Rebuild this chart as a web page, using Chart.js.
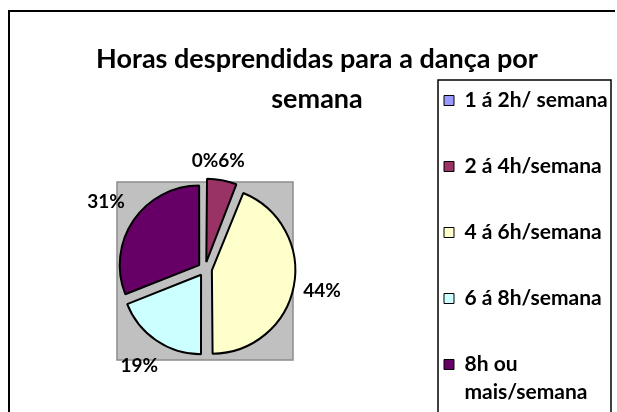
<!DOCTYPE html>
<html>
<head>
<meta charset="utf-8">
<script src="https://cdn.jsdelivr.net/npm/chart.js@4.4.1/dist/chart.umd.min.js"></script>
<style>
  body { margin: 0; background: #fff; overflow: hidden; }
  #wrap { position: relative; width: 617px; height: 412px; overflow: hidden; }
  #wrap canvas { position: absolute; left: 0; top: 0; }
  #title {
    position: absolute; left: 0; top: 38px; width: 634px;
    text-align: center; font: bold 27px Lato, sans-serif; line-height: 40px; color: #000;
  }
</style>
</head>
<body>
<div id="wrap">
  <canvas id="chart1" width="617" height="440"></canvas>
  <div id="title">Horas desprendidas para a dança por<br>semana</div>
</div>
<script>
// horas por semana (% dos inquiridos)
const categories = ['1 á 2h/ semana', '2 á 4h/semana', '4 á 6h/semana', '6 á 8h/semana', ['8h ou', 'mais/semana']]
const percentages = [0, 6, 44, 19, 31]

const FONT = 'Lato, sans-serif'
const LEGEND_LEFT = 399

// moldura, area cinza do grafico e caixa da legenda
const frame = {
  id: 'frame',
  beforeDatasetsDraw(chart) {
    const { ctx, chartArea } = chart
    const cx = (chartArea.left + chartArea.right) / 2
    const cy = (chartArea.top + chartArea.bottom) / 2
    ctx.save()
    ctx.strokeStyle = '#000'
    ctx.lineWidth = 2
    ctx.beginPath()
    ctx.moveTo(9, 440)
    ctx.lineTo(9, 11)
    ctx.lineTo(615, 11)
    ctx.stroke()

    ctx.fillStyle = '#c0c0c0'
    ctx.fillRect(cx - 88, cy - 87, 176, 178)
    ctx.strokeStyle = '#8c8c8c'
    ctx.lineWidth = 1.5
    ctx.strokeRect(cx - 88, cy - 87, 176, 178)

    ctx.strokeStyle = '#000'
    ctx.lineWidth = 1.5
    ctx.strokeRect(438, 80, 173, 400)
    ctx.restore()
  }
}

// rotulos de percentagem fora das fatias
const pctLabels = {
  id: 'pctLabels',
  afterDatasetsDraw(chart) {
    const { ctx } = chart
    const meta = chart.getDatasetMeta(0)
    const values = chart.data.datasets[0].data
    const total = values.reduce((a, b) => a + b, 0)
    ctx.save()
    ctx.font = 'bold 19px ' + FONT
    ctx.fillStyle = '#000'
    ctx.textAlign = 'center'
    ctx.textBaseline = 'middle'
    let prev = null
    meta.data.forEach((arc, i) => {
      const { x, y, startAngle, endAngle, outerRadius } = arc.getProps(['x', 'y', 'startAngle', 'endAngle', 'outerRadius'], true)
      const mid = (startAngle + endAngle) / 2
      const dx = Math.cos(mid)
      const dy = Math.sin(mid)
      const text = Math.round(values[i] / total * 100) + '%'
      const w = ctx.measureText(text).width
      const d = outerRadius + 20 + Math.abs(dx) * w / 2 + Math.abs(dy) * 9
      let lx = x + dx * d
      const ly = y + dy * d
      // nao sobrepor ao rotulo anterior
      if (prev && Math.abs(ly - prev.y) < 18 && lx - w / 2 < prev.right) {
        lx = prev.right + w / 2
      }
      ctx.fillText(text, lx, ly)
      prev = { y: ly, right: lx + w / 2 }
    })
    ctx.restore()
  }
}

const chart = new Chart('chart1', {
  type: 'pie',
  data: {
    labels: categories,
    datasets: [{
      data: percentages,
      backgroundColor: ['#9999ff', '#993366', '#ffffcc', '#ccffff', '#660066'],
      borderColor: '#000',
      borderWidth: 2,
      offset: 28,
      radius: 79
    }]
  },
  options: {
    responsive: false,
    animation: false,
    layout: {
      padding: { left: 11, right: 3, top: 45, bottom: 0 }
    },
    plugins: {
      // espaco vazio por cima da area do grafico (o titulo esta no html)
      title: { display: true, text: '', fullSize: false, padding: 0, font: { size: 12, lineHeight: '53px' } },
      tooltip: { enabled: false },
      legend: {
        position: 'right',
        align: 'start',
        maxWidth: 214,
        labels: {
          color: '#000',
          boxWidth: 10,
          boxHeight: 10,
          padding: 45,
          font: { family: FONT, size: 21, weight: 'bold', lineHeight: 1.333 },
          generateLabels(chart) {
            const items = Chart.overrides.pie.plugins.legend.labels.generateLabels(chart)
            return items.map(item => ({ ...item, lineWidth: 1, strokeStyle: '#000' }))
          }
        }
      }
    }
  },
  plugins: [frame, pctLabels]
})

// acertar a legenda na caixa
const shift = chart.legend.left - LEGEND_LEFT
if (Math.abs(shift) > 0.5) {
  chart.options.layout.padding.right = Math.max(0, chart.options.layout.padding.right + shift)
  chart.update()
}
</script>
</body>
</html>
